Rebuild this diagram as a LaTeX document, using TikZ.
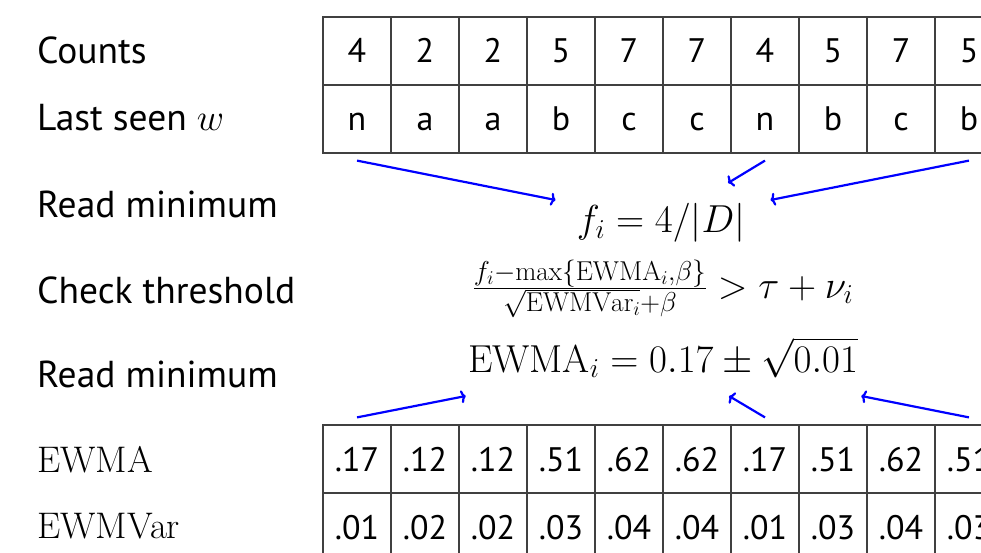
\RequirePackage{fix-cm}
\documentclass[tikz,border=0pt]{standalone}
\usepackage{fontspec}
\newfontfamily\labfont{PT Sans}
\usetikzlibrary{arrows.meta}
\begin{document}
\begin{tikzpicture}[x=1pt,y=-1pt,
  lab/.style={anchor=base west, inner sep=0pt, font=\labfont\fontsize{37.5}{40}\selectfont},
  rmlab/.style={anchor=base west, inner sep=0pt, font=\fontsize{37}{40}\selectfont},
  cell/.style={draw=black!75, line width=1.2pt, minimum width=68pt, minimum height=68pt,
    inner sep=0pt, text height=24pt, text depth=0pt, font=\labfont\fontsize{34}{40}\selectfont},
  formula/.style={inner sep=0pt, anchor=base, font=\fontsize{39}{42}\selectfont},
  arr/.style={draw=blue, line width=2.2pt, -{To[length=5pt,width=13pt]}}]
\useasboundingbox (0,0) rectangle (981,553);
\clip (0,0) rectangle (981,553);
% labels
\node[lab] (lc) at (37,64) {Counts};
\node[lab] (ll) at (37,131) {Last seen $w$};
\node[lab] (lr1) at (37,218) {Read minimum};
\node[lab] (lt) at (37,303) {Check threshold};
\node[lab] (lr2) at (37,387) {Read minimum};
\node[rmlab] (le) at (37,472) {EWMA};
\node[rmlab] (lv) at (37,538) {EWMVar};
% tables
\foreach \v [count=\k] in {4,2,2,5,7,7,4,5,7,5}
  \node[cell] (c\k) at ({357+68*(\k-1)},51) {\v};
\foreach \v [count=\k] in {n,a,a,b,c,c,n,b,c,b}
  \node[cell] (l\k) at ({357+68*(\k-1)},119) {\v};
\foreach \v [count=\k] in {.17,.12,.12,.51,.62,.62,.17,.51,.62,.51}
  \node[cell] (e\k) at ({357+68*(\k-1)},459) {\v};
\foreach \v [count=\k] in {.01,.02,.02,.03,.04,.04,.01,.03,.04,.03}
  \node[cell] (v\k) at ({357+68*(\k-1)},527) {\v};
% formulas
\node[formula] (fi) at (661,233) {$f_i = 4/|D|$};
\node[formula] (thr) at (663,298) {$\frac{f_i - \max\{\mathrm{EWMA}_i, \beta\}}{\sqrt{\mathrm{EWMVar}_i} + \beta} > \tau + \nu_i$};
\node[formula] (ew) at (663,372) {$\mathrm{EWMA}_i = 0.17 \pm \sqrt{0.01}$};
% arrows
\draw[arr] ([yshift=-7pt]l1.south) -- ([xshift=-21pt,yshift=33pt]fi.base west);
\draw[arr] ([yshift=-7pt]l7.south) -- ([xshift=67pt,yshift=50pt]fi.base);
\draw[arr] ([yshift=-7pt]l10.south) -- ([xshift=25pt,yshift=33pt]fi.base east);
\draw[arr] ([yshift=7pt]e1.north) -- ([xshift=-2pt,yshift=-24pt]ew.base west);
\draw[arr] ([yshift=7pt]e7.north) -- ([xshift=66pt,yshift=-24pt]ew.base);
\draw[arr] ([yshift=7pt]e10.north) -- ([xshift=3pt,yshift=-24pt]ew.base east);
\end{tikzpicture}
\end{document}
